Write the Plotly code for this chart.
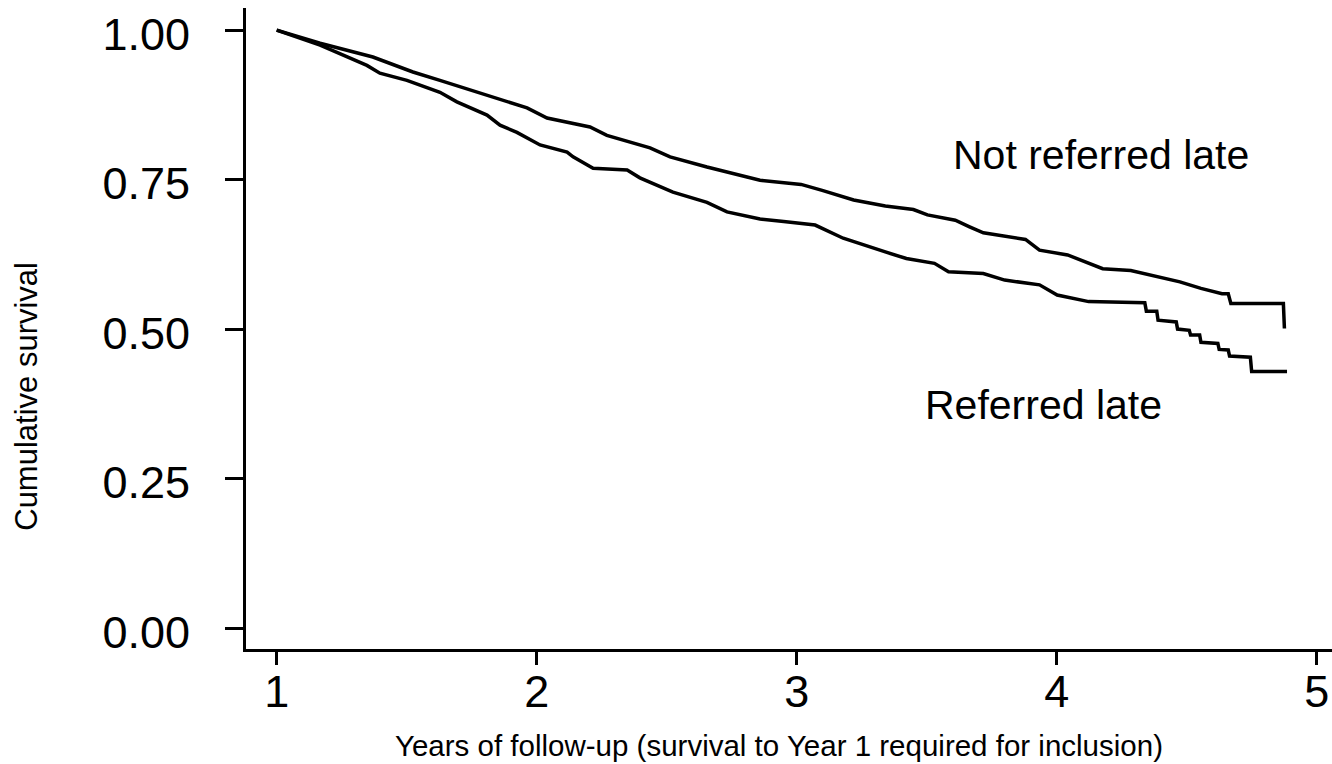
import plotly.graph_objects as go

# Years of follow-up and cumulative survival
not_late_t = [1.000, 1.167, 1.370, 1.524, 1.628, 1.809, 1.963, 2.040, 2.205, 2.270,
              2.436, 2.513, 2.655, 2.859, 3.017, 3.098, 3.179, 3.219, 3.341, 3.449,
              3.503, 3.610, 3.665, 3.718, 3.880, 3.934, 4.042, 4.123, 4.177, 4.285,
              4.366, 4.474, 4.555, 4.636, 4.660, 4.670, 4.872, 4.876]
not_late_s = [1.000, 0.978, 0.955, 0.930, 0.916, 0.891, 0.870, 0.853, 0.838, 0.824,
              0.803, 0.788, 0.771, 0.749, 0.742, 0.732, 0.721, 0.716, 0.706, 0.700,
              0.691, 0.682, 0.671, 0.661, 0.650, 0.632, 0.624, 0.610, 0.601, 0.598,
              0.590, 0.579, 0.568, 0.559, 0.559, 0.543, 0.543, 0.501]

late_t = [1.000, 1.167, 1.347, 1.397, 1.501, 1.628, 1.693, 1.809, 1.859, 1.924,
          2.013, 2.117, 2.140, 2.217, 2.348, 2.397, 2.524, 2.655, 2.732, 2.859,
          2.950, 3.071, 3.179, 3.273, 3.341, 3.422, 3.530, 3.584, 3.718, 3.800,
          3.934, 4.002, 4.123, 4.339, 4.345, 4.385, 4.390, 4.460, 4.465, 4.510,
          4.515, 4.550, 4.555, 4.620, 4.625, 4.660, 4.665, 4.745, 4.750, 4.886]
late_s = [1.000, 0.975, 0.941, 0.928, 0.916, 0.896, 0.880, 0.858, 0.841, 0.829,
          0.808, 0.796, 0.788, 0.769, 0.766, 0.753, 0.729, 0.712, 0.696, 0.684,
          0.680, 0.674, 0.652, 0.638, 0.629, 0.618, 0.610, 0.596, 0.593, 0.582,
          0.574, 0.557, 0.546, 0.544, 0.530, 0.530, 0.515, 0.512, 0.500, 0.498,
          0.490, 0.490, 0.478, 0.476, 0.466, 0.465, 0.455, 0.453, 0.429, 0.429]

x_ticks = [1, 2, 3, 4, 5]
y_ticks = [0.00, 0.25, 0.50, 0.75, 1.00]
y_tick_labels = ["0.00", "0.25", "0.50", "0.75", "1.00"]

FONT = "Liberation Sans, Arial, Helvetica, sans-serif"

fig = go.Figure()
fig.add_trace(go.Scatter(x=not_late_t, y=not_late_s, mode="lines",
                         line=dict(color="black", width=3.5), name="Not referred late",
                         showlegend=False))
fig.add_trace(go.Scatter(x=late_t, y=late_s, mode="lines",
                         line=dict(color="black", width=3.5), name="Referred late",
                         showlegend=False))

fig.add_annotation(x=4.172, y=0.791, text="Not referred late", showarrow=False,
                   font=dict(family=FONT, size=41, color="black"))
fig.add_annotation(x=3.949, y=0.373, text="Referred late", showarrow=False,
                   font=dict(family=FONT, size=41, color="black"))

fig.add_annotation(x=0.491, y=-0.150, xref="paper", yref="paper",
                   xanchor="center", yanchor="middle",
                   text="Years of follow-up (survival to Year 1 required for inclusion)",
                   showarrow=False, font=dict(family=FONT, size=29.5, color="black"))
fig.add_annotation(x=-0.2017, y=0.395, xref="paper", yref="paper",
                   xanchor="center", yanchor="middle",
                   text="Cumulative survival", textangle=-90,
                   showarrow=False, font=dict(family=FONT, size=31, color="black"))

fig.update_xaxes(range=[0.882, 5.059], tickvals=x_ticks, ticktext=[str(v) for v in x_ticks],
                 showline=True, linecolor="black", linewidth=3, mirror=False,
                 ticks="outside", ticklen=13, tickwidth=3, tickcolor="black",
                 showgrid=False, zeroline=False,
                 tickfont=dict(family=FONT, size=45, color="black"),
                 ticklabelstandoff=-12)
fig.update_yaxes(range=[-0.035, 1.037], tickvals=y_ticks, ticktext=y_tick_labels,
                 showline=True, linecolor="black", linewidth=3, mirror=False,
                 ticks="outside", ticklen=18, tickwidth=3, tickcolor="black",
                 showgrid=False, zeroline=False,
                 tickfont=dict(family=FONT, size=45, color="black"),
                 ticklabelstandoff=26, ticklabelshift=4)

fig.update_layout(width=1332, height=764, margin=dict(l=246, r=0, t=8, b=115),
                  paper_bgcolor="white", plot_bgcolor="white", showlegend=False)

fig.write_html("out.html")
